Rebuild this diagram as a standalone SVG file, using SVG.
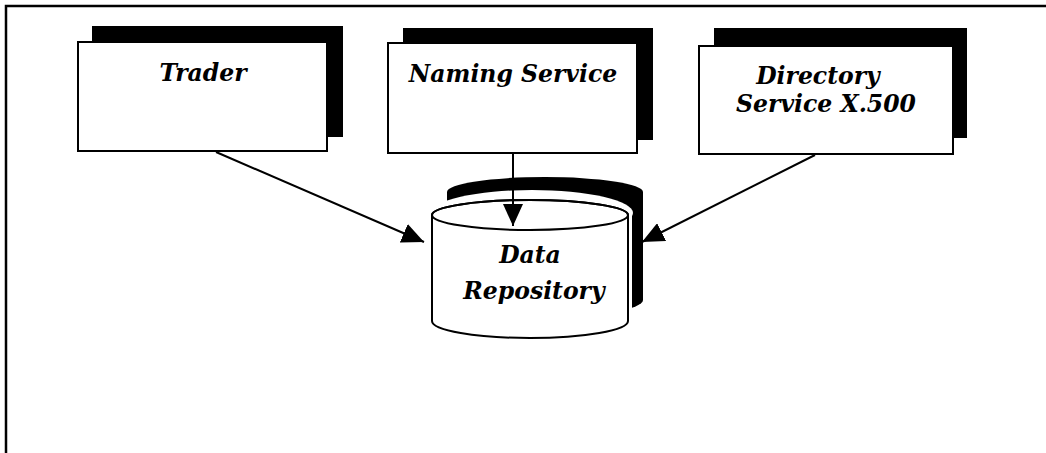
<svg xmlns="http://www.w3.org/2000/svg" width="1046" height="453" viewBox="0 0 1046 453">
<style>
.shadow{fill:#000}
.box{fill:#fff;stroke:#000;stroke-width:2}
.lbl{font-family:"DejaVu Serif","Liberation Serif",serif;font-style:italic;font-weight:bold;font-size:23.5px;fill:#000;text-anchor:middle}
.conn{stroke:#000;stroke-width:2;fill:none}
</style>
<defs>
<marker id="arr" viewBox="0 0 22 20" refX="22" refY="10" markerWidth="22" markerHeight="20" markerUnits="userSpaceOnUse" orient="auto">
<path d="M0,0 L22,10 L0,20 Z" fill="#000"/>
</marker>
</defs>
<rect width="1046" height="453" fill="#fff"/>
<g id="frame">
<path d="M6,453 L6,6 L1046,6" fill="none" stroke="#000" stroke-width="2.5"/>
</g>
<g id="trader">
<rect class="shadow" x="92" y="26" width="251" height="111"/>
<rect class="box" x="78" y="42" width="249" height="109"/>
<text class="lbl" x="203" y="81">Trader</text>
</g>
<g id="naming">
<rect class="shadow" x="403" y="28" width="250" height="112"/>
<rect class="box" x="388" y="43" width="249" height="110"/>
<text class="lbl" x="513" y="82">Naming Service</text>
</g>
<g id="directory">
<rect class="shadow" x="714" y="28" width="253" height="110"/>
<rect class="box" x="699" y="46" width="254" height="108"/>
<text class="lbl" x="818" y="84">Directory</text>
<text class="lbl" x="826" y="112">Service X.500</text>
</g>
<g id="repository">
<path class="shadow" d="M447,192 A98,15 0 0 1 643,192 L643,300 A98,17 0 0 1 447,300 Z"/>
<ellipse cx="532" cy="213" rx="101" ry="23" fill="#fff"/>
<path d="M432,215 A98,15 0 0 1 628,215 L628,321 A98,17 0 0 1 432,321 Z" fill="#fff" stroke="#fff" stroke-width="8"/>
<path d="M432,215 A98,15 0 0 1 628,215 L628,321 A98,17 0 0 1 432,321 Z" fill="#fff" stroke="#000" stroke-width="2"/>
<ellipse cx="530" cy="215" rx="98" ry="15" fill="none" stroke="#000" stroke-width="2"/>
<text class="lbl" x="530" y="263">Data</text>
<text class="lbl" x="534" y="299">Repository</text>
</g>
<g id="connectors">
<line class="conn" x1="216" y1="152" x2="424" y2="242" marker-end="url(#arr)"/>
<line class="conn" x1="513" y1="153" x2="513" y2="226" marker-end="url(#arr)"/>
<line class="conn" x1="815" y1="155" x2="642" y2="242" marker-end="url(#arr)"/>
</g>
</svg>
